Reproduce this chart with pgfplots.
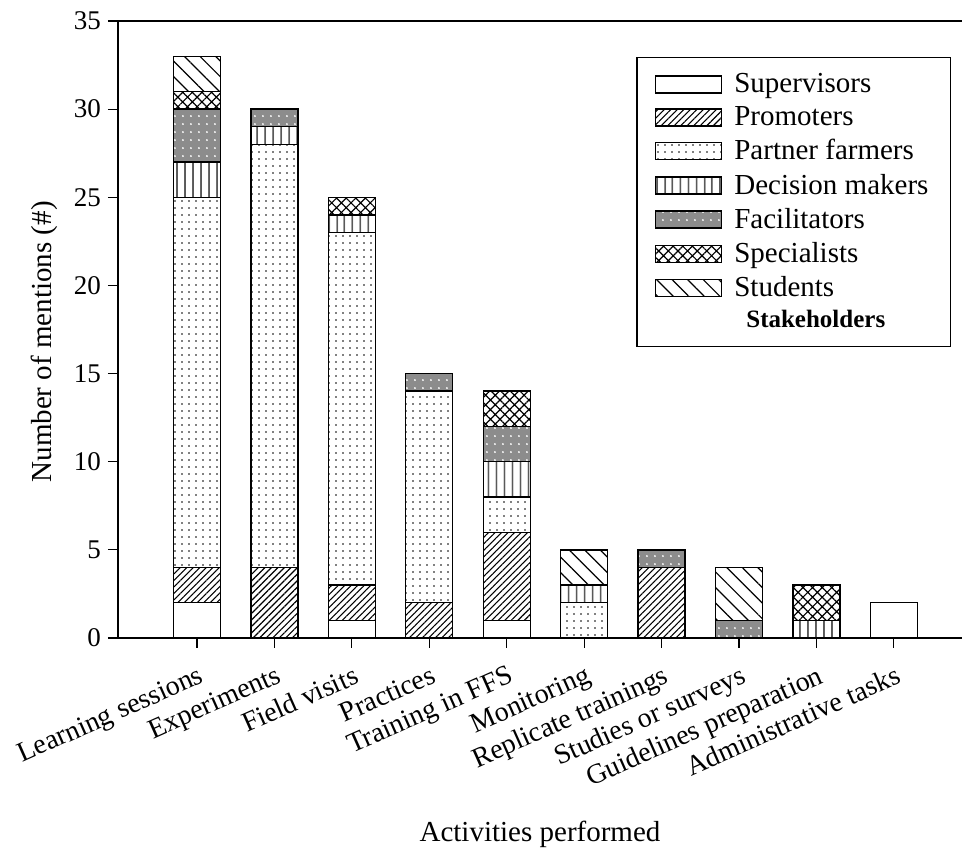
\documentclass[border=0pt]{standalone}
\usepackage{pgfplots}
\usepackage{pgfplotstable}
\pgfplotsset{compat=1.18}
\usepackage{fontspec}
\setmainfont{Liberation Serif}
\usetikzlibrary{patterns,patterns.meta}

% mentions per activity and stakeholder
\pgfplotstableread{
x sup pro par dec fac spe stu
0 2 2 21 2 3 1 2
1 0 4 24 1 1 0 0
2 1 2 20 1 0 1 0
3 0 2 12 0 1 0 0
4 1 5 2 2 2 2 0
5 0 0 2 1 0 0 2
6 0 4 0 0 1 0 0
7 0 0 0 0 1 0 3
8 0 0 0 1 0 2 0
9 2 0 0 0 0 0 0
}\mentions

\begin{document}
\begin{tikzpicture}
\begin{axis}[
    name=ax,
    scale only axis,
    width=422pt, height=308.5pt,
    ybar stacked,
    bar width=23.5pt,
    xmin=-1.02, xmax=9.88,
    ymin=0, ymax=35,
    ytick={0,5,...,35},
    xtick=data,
    xticklabels={Learning sessions, Experiments, Field visits, Practices, Training in FFS, Monitoring, Replicate trainings, Studies or surveys, Guidelines preparation, Administrative tasks},
    axis lines=left,
    axis line style={-, line width=0.6pt},
    tick align=outside,
    major tick length=5pt,
    tick style={black, line width=0.6pt},
    clip=false,
    yticklabel style={font=\fontsize{13.5}{15}\selectfont},
    xticklabel style={rotate=24, anchor=north east, font=\fontsize{14}{16}\selectfont, inner sep=1.5pt, yshift=-6pt, xshift=-1.5pt},
    /pgf/number format/assume math mode=true,
    xlabel={Activities performed},
    ylabel={Number of mentions (\#)},
    label style={font=\fontsize{14.5}{17}\selectfont},
    xlabel style={at={(axis description cs:0.5,0)}, anchor=north, yshift=-88pt},
    ylabel style={at={(axis description cs:-0.087,0.48)}, anchor=center, rotate=0},
    every axis plot/.append style={draw=black, line width=0.7pt},
    legend style={at={(0.987,0.942)}, anchor=north east, draw=black, line width=0.6pt,
        font=\fontsize{14.5}{17}\selectfont, cells={anchor=west},
        inner xsep=9pt, inner ysep=6pt, row sep=1.5pt},
    legend image code/.code={\draw[#1] (0pt,-4.25pt) rectangle (33pt,4.25pt); \path (37pt,0pt);},
]
\addplot[fill=white] table[x=x, y=sup] {\mentions};
\addplot[pattern={Lines[angle=45,distance=2.3pt,line width=0.55pt]}] table[x=x, y=pro] {\mentions};
\addplot[pattern={Dots[distance=3.5pt,radius=0.45pt]}] table[x=x, y=par] {\mentions};
\addplot[pattern={Lines[angle=90,distance=4pt,line width=0.6pt]}] table[x=x, y=dec] {\mentions};
\addplot[fill=black!45, postaction={pattern={Dots[distance=4pt,radius=0.5pt]}, pattern color=white}] table[x=x, y=fac] {\mentions};
\addplot[pattern={Hatch[angle=45,distance=3.4pt,line width=0.6pt]}] table[x=x, y=spe] {\mentions};
\addplot[pattern={Lines[angle=-45,distance=5.5pt,line width=0.6pt]}] table[x=x, y=stu] {\mentions};
\addlegendimage{empty legend}
\legend{Supervisors, Promoters, Partner farmers, Decision makers, Facilitators, Specialists, Students, \hspace*{6pt}{\fontsize{12.5}{14}\selectfont\textbf{Stakeholders}}}
\draw[line width=0.6pt] (rel axis cs:0,1) -- (rel axis cs:1,1);
\coordinate (SW) at (rel axis cs:0,0);
\coordinate (NE) at (rel axis cs:1,1);
\end{axis}
\pgfresetboundingbox
\path[use as bounding box] ([xshift=-59pt,yshift=-107pt]SW) rectangle ([yshift=10.5pt]NE);
\end{tikzpicture}
\end{document}
